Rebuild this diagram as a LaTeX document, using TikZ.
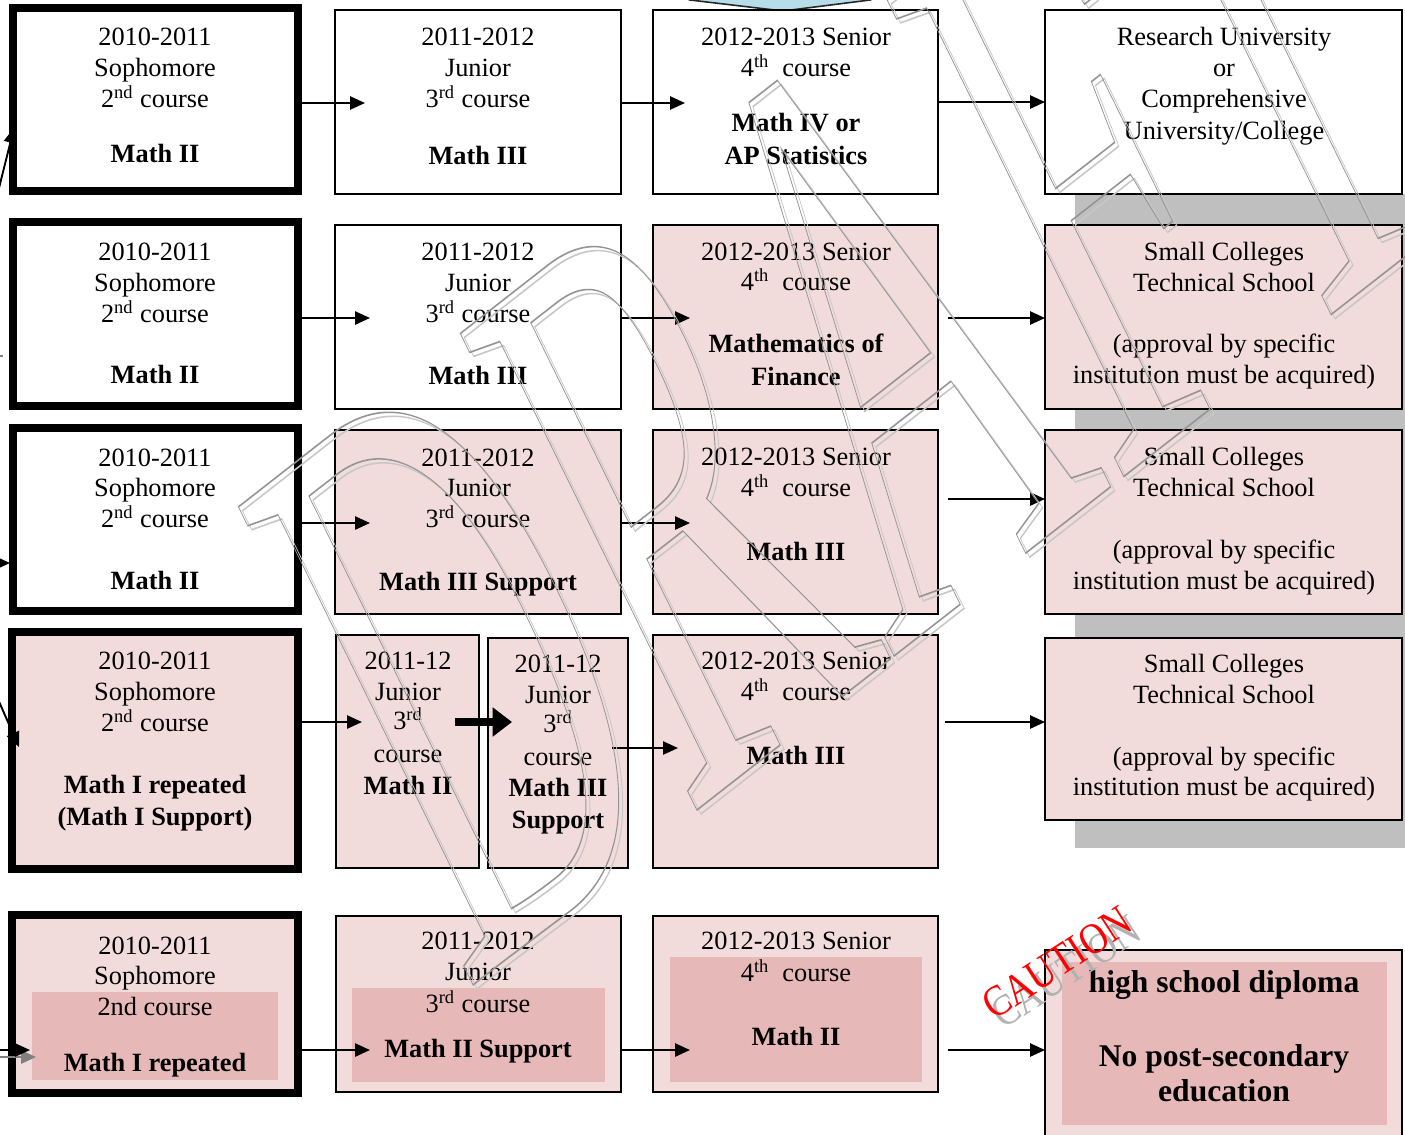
\documentclass[tikz,border=0pt]{standalone}
\usepackage{fontspec}
\setmainfont{Liberation Serif}
\usetikzlibrary{arrows.meta,fit,calc}
\definecolor{pinkL}{HTML}{F2DCDB}
\definecolor{pinkD}{HTML}{E6B9B8}
\definecolor{shadowgray}{HTML}{BFBFBF}
\definecolor{skyb}{HTML}{B7DEE8}
\tikzset{
  every node/.style={inner sep=0pt, outer sep=0pt},
  thickbox/.style={draw, line width=4.5pt},
  thinbox/.style={draw, line width=1.1pt},
  pinkbox/.style={fill=pinkL},
  whitebox/.style={fill=white},
  innerbox/.style={fill=pinkD},
  tl/.style={font=\fontsize{15pt}{17.6pt}\selectfont, text height=9.9pt, text depth=0pt, anchor=center},
  tb/.style={font=\fontsize{15pt}{17.6pt}\selectfont\bfseries, text height=9.9pt, text depth=0pt, anchor=center},
  tbig/.style={font=\fontsize{18pt}{21pt}\selectfont\bfseries, text height=11.9pt, text depth=0pt, anchor=center},
  arr/.style={line width=1.1pt, -{Triangle[length=8.5pt,width=7.5pt]}},
  fatarr/.style={line width=4.5pt, -{Triangle[length=11pt,width=16pt]}},
  cautxt/.style={font=\fontsize{25pt}{25pt}\selectfont, rotate=33, xscale=0.85},
  wmark/.style={font=\fontsize{453pt}{453pt}\selectfont, rotate=38, xslant=0.21, xscale=0.49},
}
\newcommand\T[4]{\node[tl] (#1) at (#2,#3) {#4};}
\newcommand\B[4]{\node[tb] (#1) at (#2,#3) {#4};}
\newcommand\sps[1]{\textsuperscript{#1}}
\newcommand\outlined[1]{\special{pdf:literal direct 1 Tr 0.9 w}#1\special{pdf:literal direct 0 Tr}}
\begin{document}
\begin{tikzpicture}[x=0.02cm, y=-0.02cm]
\useasboundingbox (0,0) rectangle (1405,1134);
% top chevron
\filldraw[fill=skyb, draw=black!85, line width=0.9pt] (675,-6) -- (690,0) -- (783,11) -- (870,0) -- (885,-6) -- cycle;
% shadow behind column 4
\fill[shadowgray] (1075,194) rectangle (1405,848);
% ---------------- boxes
\node[thickbox, whitebox, fit={(13,8)(298,191)}] (b11) {};
\node[thinbox, whitebox, fit={(335,10)(621,194)}] (b12) {};
\node[thinbox, whitebox, fit={(653,10)(938,194)}] (b13) {};
\node[thinbox, whitebox, fit={(1045,10)(1402,194)}] (b14) {};
\node[thickbox, whitebox, fit={(13,222)(298,406)}] (b21) {};
\node[thinbox, whitebox, fit={(335,225)(621,409)}] (b22) {};
\node[thinbox, pinkbox, fit={(653,225)(938,409)}] (b23) {};
\node[thinbox, pinkbox, fit={(1045,225)(1402,409)}] (b24) {};
\node[thickbox, whitebox, fit={(13,428)(298,611)}] (b31) {};
\node[thinbox, pinkbox, fit={(335,430)(621,614)}] (b32) {};
\node[thinbox, pinkbox, fit={(653,430)(938,614)}] (b33) {};
\node[thinbox, pinkbox, fit={(1045,430)(1402,614)}] (b34) {};
\node[thickbox, pinkbox, fit={(12,632)(298,869)}] (b41) {};
\node[thinbox, pinkbox, fit={(336,635)(479,868)}] (b42a) {};
\node[thinbox, pinkbox, fit={(488,638)(628,868)}] (b42b) {};
\node[thinbox, pinkbox, fit={(653,635)(938,868)}] (b43) {};
\node[thinbox, pinkbox, fit={(1045,638)(1402,820)}] (b44) {};
\node[thickbox, pinkbox, fit={(12,915)(298,1093)}] (b51) {};
\node[thinbox, pinkbox, fit={(336,916)(621,1092)}] (b52) {};
\node[thinbox, pinkbox, fit={(653,916)(938,1092)}] (b53) {};
\node[thinbox, pinkbox, fit={(1045,950)(1402,1138)}] (b54) {};
\node[innerbox, fit={(32,992)(278,1080)}] (i51) {};
\node[innerbox, fit={(352,988)(605,1082)}] (i52) {};
\node[innerbox, fit={(670,957)(922,1082)}] (i53) {};
\node[innerbox, fit={(1062,962)(1387,1125)}] (i54) {};
% ---------------- texts row 1
\T{t11a}{155}{37}{2010-2011}
\T{t11b}{155}{68}{Sophomore}
\T{t11c}{155}{99}{2\sps{nd} course}
\B{t11d}{155}{154}{Math II}
\T{t12a}{478}{37}{2011-2012}
\T{t12b}{478}{68}{Junior}
\T{t12c}{478}{99}{3\sps{rd} course}
\B{t12d}{478}{156}{Math III}
\T{t13a}{796}{37}{2012-2013 Senior}
\T{t13b}{796}{68}{4\sps{th}\ \ course}
\B{t13c}{796}{123}{Math IV or}
\B{t13d}{796}{156}{AP Statistics}
\T{t14a}{1224}{37}{Research University}
\T{t14b}{1224}{68}{or}
\T{t14c}{1224}{99}{Comprehensive}
\T{t14d}{1224}{131}{University/College}
% row 2
\T{t21a}{155}{252}{2010-2011}
\T{t21b}{155}{283}{Sophomore}
\T{t21c}{155}{314}{2\sps{nd} course}
\B{t21d}{155}{375}{Math II}
\T{t22a}{478}{252}{2011-2012}
\T{t22b}{478}{283}{Junior}
\T{t22c}{478}{314}{3\sps{rd} course}
\B{t22d}{478}{376}{Math III}
\T{t23a}{796}{252}{2012-2013 Senior}
\T{t23b}{796}{282}{4\sps{th}\ \ course}
\B{t23c}{796}{344}{Mathematics of}
\B{t23d}{796}{377}{Finance}
\T{t24a}{1224}{252}{Small Colleges}
\T{t24b}{1224}{283}{Technical School}
\T{t24c}{1224}{344}{(approval by specific}
\T{t24d}{1224}{375}{institution must be acquired)}
% row 3
\T{t31a}{155}{458}{2010-2011}
\T{t31b}{155}{488}{Sophomore}
\T{t31c}{155}{519}{2\sps{nd} course}
\B{t31d}{155}{581}{Math II}
\T{t32a}{478}{458}{2011-2012}
\T{t32b}{478}{488}{Junior}
\T{t32c}{478}{519}{3\sps{rd} course}
\B{t32d}{478}{582}{Math III Support}
\T{t33a}{796}{457}{2012-2013 Senior}
\T{t33b}{796}{488}{4\sps{th}\ \ course}
\B{t33c}{796}{552}{Math III}
\T{t34a}{1224}{457}{Small Colleges}
\T{t34b}{1224}{488}{Technical School}
\T{t34c}{1224}{550}{(approval by specific}
\T{t34d}{1224}{581}{institution must be acquired)}
% row 4
\T{t41a}{155}{661}{2010-2011}
\T{t41b}{155}{692}{Sophomore}
\T{t41c}{155}{723}{2\sps{nd} course}
\B{t41d}{155}{785}{Math I repeated}
\B{t41e}{155}{817}{(Math I Support)}
\T{t42a}{408}{661}{2011-12}
\T{t42b}{408}{692}{Junior}
\T{t42c}{408}{721}{3\sps{rd}}
\T{t42d}{408}{754}{course}
\B{t42e}{408}{786}{Math II}
\T{t42f}{558}{664}{2011-12}
\T{t42g}{558}{695}{Junior}
\T{t42h}{558}{724}{3\sps{rd}}
\T{t42i}{558}{757}{course}
\B{t42j}{558}{788}{Math III}
\B{t42k}{558}{820}{Support}
\T{t43a}{796}{661}{2012-2013 Senior}
\T{t43b}{796}{692}{4\sps{th}\ \ course}
\B{t43c}{796}{756}{Math III}
\T{t44a}{1224}{664}{Small Colleges}
\T{t44b}{1224}{695}{Technical School}
\T{t44c}{1224}{757}{(approval by specific}
\T{t44d}{1224}{787}{institution must be acquired)}
% row 5
\T{t51a}{155}{946}{2010-2011}
\T{t51b}{155}{976}{Sophomore}
\T{t51c}{155}{1007}{2nd course}
\B{t51d}{155}{1063}{Math I repeated}
\T{t52a}{478}{941}{2011-2012}
\T{t52b}{478}{972}{Junior}
\T{t52c}{478}{1004}{3\sps{rd} course}
\B{t52d}{478}{1049}{Math II Support}
\T{t53a}{796}{941}{2012-2013 Senior}
\T{t53b}{796}{973}{4\sps{th}\ \ course}
\B{t53c}{796}{1037}{Math II}
\node[tbig] (t54a) at (1224,982) {high school diploma};
\node[tbig] (t54b) at (1224,1056) {No post-secondary};
\node[tbig] (t54c) at (1224,1091) {education};
% ---------------- arrow end coordinates
\coordinate (e12) at (365,103);
\coordinate (e13) at (685,103);
\coordinate (e22) at (370,318);
\coordinate (e23) at (690,318);
\coordinate (s24) at (948,318);
\coordinate (e32) at (370,523);
\coordinate (e33) at (690,523);
\coordinate (s34) at (948,499);
\coordinate (e42a) at (362,722);
\coordinate (s42b) at (455,722);
\coordinate (e42b) at (512,722);
\coordinate (s43) at (612,748);
\coordinate (e43) at (678,748);
\coordinate (s44) at (945,722);
\coordinate (e52) at (370,1050);
\coordinate (e53) at (690,1050);
\coordinate (s54) at (948,1050);
% ---------------- arrows
\draw[arr] (b11.east |- e12) -- (e12);
\draw[arr] (b12.east |- e13) -- (e13);
\draw[arr] (b13.east) -- (b14.west);
\draw[arr] (b21.east |- e22) -- (e22);
\draw[arr] (b22.east |- e23) -- (e23);
\draw[arr] (s24) -- (b24.west |- s24);
\draw[arr] (b31.east |- e32) -- (e32);
\draw[arr] (b32.east |- e33) -- (e33);
\draw[arr] (s34) -- (b34.west |- s34);
\draw[arr] (b41.east |- e42a) -- (e42a);
\draw[fatarr] (s42b) -- (e42b);
\draw[arr] (s43) -- (e43);
\draw[arr] (s44) -- (b44.west |- s44);
\draw[arr] (b51.east |- e52) -- (e52);
\draw[arr] (b52.east |- e53) -- (e53);
\draw[arr] (s54) -- (b54.west |- s54);
% ---------------- arrows entering from the left edge
\coordinate (l1s) at (-3,196);
\coordinate (l1e) at (14,128);
\draw[arr] (l1s) -- (l1e);
\coordinate (l2s) at (-3,356);
\coordinate (l2e) at (3,356);
\draw[line width=1.5pt, black!50] (l2s) -- (l2e);
\coordinate (l3s) at (-30,563);
\coordinate (l3e) at (10,563);
\draw[arr] (l3s) -- (l3e);
\coordinate (l4s) at (-3,697);
\coordinate (l4e) at (19,747);
\draw[arr] (l4s) -- (l4e);
\coordinate (l5s) at (-30,1057);
\coordinate (l5e) at (36,1057);
\draw[arr, black!50] (l5s) -- (l5e);
\coordinate (l6s) at (-30,1050);
\coordinate (l6e) at (30,1050);
\draw[arr] (l6s) -- (l6e);
% ---------------- watermark (outlined)
\node[wmark, text=black!22] (wm2) at (854,362) {\outlined{DRAFT}};
\node[wmark, text=black!42] (wm1) at (850,358) {\outlined{DRAFT}};
% CAUTION
\node[cautxt, text=black!30] (caut2) at (1066,972) {CAUTION};
\node[cautxt, text=red] (caut) at (1057,963) {CAUTION};
\end{tikzpicture}
\end{document}
